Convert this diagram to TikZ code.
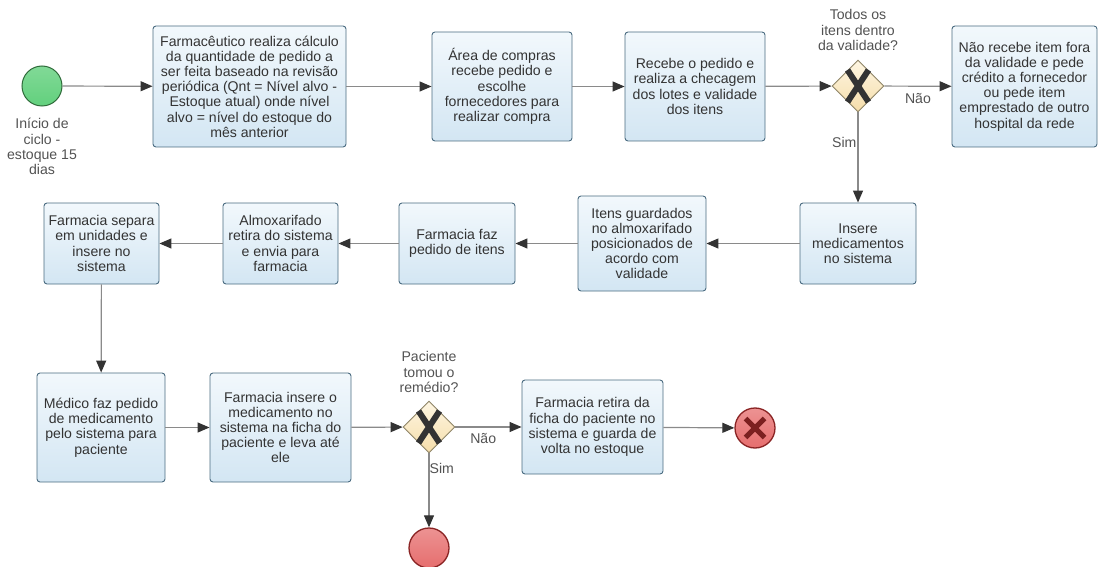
\documentclass[tikz,border=0pt]{standalone}
\usepackage{fontspec}
\setmainfont{Liberation Sans}
\usetikzlibrary{shapes.geometric,arrows.meta}
\definecolor{boxtop}{HTML}{F2F8FC}
\definecolor{boxbot}{HTML}{D3E6F3}
\definecolor{boxline}{HTML}{4A6B80}
\definecolor{txt}{HTML}{333333}
\definecolor{flow}{HTML}{8A8A8A}
\definecolor{gwtop}{HTML}{FEF6E2}
\definecolor{gwbot}{HTML}{F5DDAA}
\definecolor{gwline}{HTML}{8E8467}
\definecolor{startfill}{HTML}{62D07D}
\definecolor{startline}{HTML}{2F6B3A}
\definecolor{endfill}{HTML}{E66E6E}
\definecolor{endline}{HTML}{8A2424}
\tikzset{
  task/.style={rectangle, rounded corners=3pt, draw=boxline, line width=0.9pt,
    top color=boxtop, bottom color=boxbot, inner sep=0pt, align=center,
    text=txt, font=\fontsize{14.1}{15.2}\selectfont},
  gw/.style={diamond, aspect=1, draw=gwline, line width=0.9pt, top color=gwtop,
    bottom color=gwbot, minimum size=52pt, inner sep=0pt},
  lbl/.style={text=txt!85, font=\fontsize{14.1}{15.2}\selectfont, align=center, inner sep=0pt},
  flowline/.style={draw=flow, line width=1.2pt, -{Triangle[length=12pt,width=10pt,fill=txt,color=txt]}},
  xmark/.style={line width=6pt, draw=txt},
}
\begin{document}
\begin{tikzpicture}[x=1pt,y=-1pt]
\useasboundingbox (0,0) rectangle (1098,567);
% start event
\node[circle, draw=startline, line width=1pt, top color=startfill!80!white, bottom color=startfill, minimum size=40pt, inner sep=0pt] (start) at (42,86) {};
\node[lbl] (startlbl) at (42,146.5) {Início de\\ciclo -\\estoque 15\\dias};
% row 1
\node[task, minimum width=193pt, minimum height=121pt] (t1) at (249.5,86.5)
 {Farmacêutico realiza cálculo\\da quantidade de pedido a\\ser feita baseado na revisão\\periódica (Qnt = Nível alvo -\\Estoque atual) onde nível\\alvo = nível do estoque do\\mês anterior};
\node[task, minimum width=140pt, minimum height=109pt] (t2) at (502,86.5)
 {Área de compras\\recebe pedido e\\escolhe\\fornecedores para\\realizar compra};
\node[task, minimum width=140pt, minimum height=109pt] (t3) at (695,86.5)
 {Recebe o pedido e\\realiza a checagem\\dos lotes e validade\\dos itens};
\node[gw] (g1) at (858,86) {};
\draw[xmark] (847.5,70) -- (868.5,102) (868.5,70) -- (847.5,102);
\node[lbl] (g1lbl) at (858,30) {Todos os\\itens dentro\\da validade?};
\node[task, minimum width=145pt, minimum height=121pt] (t4) at (1024.5,86.5)
 {Não recebe item fora\\da validade e pede\\crédito a fornecedor\\ou pede item\\emprestado de outro\\hospital da rede};
% row 2
\node[task, minimum width=116pt, minimum height=81pt] (t5) at (858,243.5)
 {Insere\\medicamentos\\no sistema};
\node[task, minimum width=128pt, minimum height=95pt] (t6) at (642,243.5)
 {Itens guardados\\no almoxarifado\\posicionados de\\acordo com\\validade};
\node[task, minimum width=116pt, minimum height=81pt] (t7) at (457,243.5)
 {Farmacia faz\\pedido de itens};
\node[task, minimum width=115pt, minimum height=81pt] (t8) at (280.5,243.5)
 {Almoxarifado\\retira do sistema\\e envia para\\farmacia};
\node[task, minimum width=115pt, minimum height=81pt] (t9) at (101.5,243.5)
 {Farmacia separa\\em unidades e\\insere no\\sistema};
% row 3
\node[task, minimum width=128pt, minimum height=109pt] (t10) at (101,427.5)
 {Médico faz pedido\\de medicamento\\pelo sistema para\\paciente};
\node[task, minimum width=141pt, minimum height=109pt] (t11) at (280.5,427.5)
 {Farmacia insere o\\medicamento no\\sistema na ficha do\\paciente e leva até\\ele};
\node[gw] (g2) at (429,427) {};
\draw[xmark] (418.5,411) -- (439.5,443) (439.5,411) -- (418.5,443);
\node[lbl] (g2lbl) at (429,372) {Paciente\\tomou o\\remédio?};
\node[task, minimum width=141pt, minimum height=94pt] (t12) at (592.5,427)
 {Farmacia retira da\\ficha do paciente no\\sistema e guarda de\\volta no estoque};
\node[circle, draw=endline, line width=1.3pt, top color=endfill!75!white, bottom color=endfill, minimum size=40pt, inner sep=0pt] (endx) at (755,428) {};
\draw[line width=5pt, draw=endline!90!black] (745.5,418.5) -- (764.5,437.5) (764.5,418.5) -- (745.5,437.5);
\node[circle, draw=endline, line width=1.3pt, top color=endfill!75!white, bottom color=endfill, minimum size=40pt, inner sep=0pt] (end) at (429,548) {};
% flows
\draw[flowline] (start) -- (t1);
\draw[flowline] (t1) -- (t2);
\draw[flowline] (t2) -- (t3);
\draw[flowline] (t3) -- (g1);
\draw[flowline] (g1) -- node[lbl, pos=0.5, below=7pt] (nao1) {Não} (t4);
\draw[flowline] (g1) -- node[lbl, pos=0.33, left=1pt] (sim1) {Sim} (t5);
\draw[flowline] (t5) -- (t6);
\draw[flowline] (t6) -- (t7);
\draw[flowline] (t7) -- (t8);
\draw[flowline] (t8) -- (t9);
\draw[flowline] (t9) -- (t10);
\draw[flowline] (t10) -- (t11);
\draw[flowline] (t11) -- (g2);
\draw[flowline] (g2) -- node[lbl, pos=0.42, below=6pt] (nao2) {Não} (t12);
\draw[flowline] (g2) -- node[lbl, pos=0.2, right=0pt] (sim2) {Sim} (end);
\draw[flowline] (t12) -- (endx);
\end{tikzpicture}
\end{document}
